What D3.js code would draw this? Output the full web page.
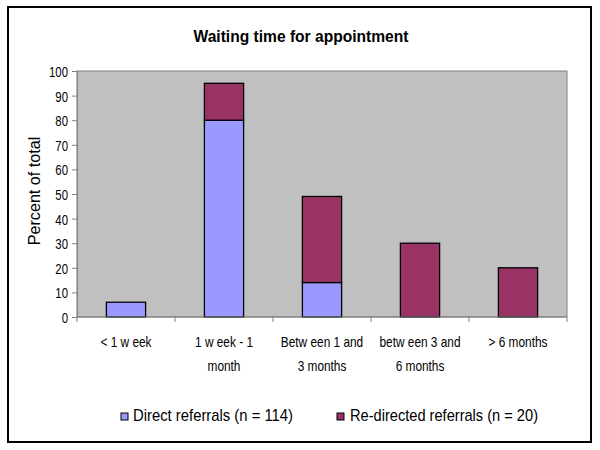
<!DOCTYPE html>
<html><head><meta charset="utf-8">
<script src="https://cdn.jsdelivr.net/npm/d3@7"></script>
<style>body{margin:0;background:#fff}svg{display:block}text{font-family:"Liberation Sans",Arial,sans-serif}</style>
</head><body>
<script>
const categories = ["< 1 w eek", "1 w eek - 1|month", "Betw een 1 and|3 months", "betw een 3 and|6 months", "> 6 months"];
const direct = [6, 80, 14, 0, 0];
const redirected = [0, 15, 35, 30, 20];
const yTicks = [0, 10, 20, 30, 40, 50, 60, 70, 80, 90, 100];
const seriesNames = ["Direct referrals (n = 114)", "Re-directed referrals (n = 20)"];
const colors = ["#9999FF", "#993366"];

const W = 600, H = 450;
const svg = d3.select("body").append("svg").attr("width", W).attr("height", H);
svg.append("rect").attr("x", 8).attr("y", 7).attr("width", 583).attr("height", 435)
  .attr("fill", "#fff").attr("stroke", "#000").attr("stroke-width", 2);

function condense(sel, f) {
  sel.each(function () {
    const w = this.getComputedTextLength();
    d3.select(this).attr("textLength", w * f).attr("lengthAdjust", "spacingAndGlyphs");
  });
}

const L = 77, R = 567, T = 71, B = 317;
const x = d3.scaleBand().domain(categories).range([L, R]).paddingInner(0.6).paddingOuter(0.3);
const y = d3.scaleLinear().domain([0, 100]).range([B, T]);

svg.append("rect").attr("x", L).attr("y", T).attr("width", R - L).attr("height", B - T)
  .attr("fill", "#C0C0C0").attr("stroke", "#808080").attr("stroke-width", 1);

svg.append("text").attr("x", 301).attr("y", 42).attr("text-anchor", "middle")
  .attr("font-size", 16).attr("font-weight", "bold").attr("textLength", 215)
  .attr("lengthAdjust", "spacingAndGlyphs").text("Waiting time for appointment");

// stacked data
const rows = categories.map((c, i) => ({cat: c, direct: direct[i], redirected: redirected[i]}));
const stack = d3.stack().keys(["direct", "redirected"])(rows);
stack.forEach((s, si) => {
  svg.append("g").selectAll("rect").data(s.filter(d => d[1] - d[0] > 0)).join("rect")
    .attr("x", d => x(d.data.cat)).attr("width", x.bandwidth())
    .attr("y", d => y(d[1])).attr("height", d => y(d[0]) - y(d[1]))
    .attr("fill", colors[si]).attr("stroke", "#000").attr("stroke-width", 1.3);
});

// y axis
const ya = svg.append("g").attr("transform", `translate(${L},0)`)
  .call(d3.axisLeft(y).tickValues(yTicks).tickSize(5).tickPadding(4));
ya.select(".domain").attr("stroke", "#808080");
ya.selectAll(".tick line").attr("stroke", "#808080");
ya.selectAll(".tick text").attr("font-size", 15).attr("fill", "#000").attr("dy", "0.36em");
condense(ya.selectAll(".tick text"), 0.76);

// x axis
const xa = svg.append("g").attr("transform", `translate(0,${B})`);
xa.append("line").attr("x1", L).attr("x2", R).attr("stroke", "#808080");
const step = (R - L) / categories.length;
xa.selectAll("line.tk").data(d3.range(categories.length + 1)).join("line").attr("class", "tk")
  .attr("x1", i => L + i * step).attr("x2", i => L + i * step).attr("y1", 0).attr("y2", 5)
  .attr("stroke", "#808080");
categories.forEach(c => {
  const lines = c.split("|");
  lines.forEach((ln, k) => {
    const t = xa.append("text").attr("text-anchor", "middle").attr("font-size", 15)
      .attr("x", x(c) + x.bandwidth() / 2).attr("y", 30 + k * 24).text(ln);
    condense(t, 0.79);
  });
});

const yt = svg.append("text").attr("transform", "translate(40,191) rotate(-90)").attr("text-anchor", "middle")
  .attr("font-size", 17).text("Percent of total");
condense(yt, 0.95);

// legend
const leg = [{x: 121, tx: 133, w: 160}, {x: 337, tx: 350, w: 188}];
seriesNames.forEach((n, i) => {
  svg.append("rect").attr("x", leg[i].x).attr("y", 413).attr("width", 7).attr("height", 7)
    .attr("fill", colors[i]).attr("stroke", "#000").attr("stroke-width", 1);
  svg.append("text").attr("x", leg[i].tx).attr("y", 421).attr("font-size", 17)
    .attr("textLength", leg[i].w).attr("lengthAdjust", "spacingAndGlyphs").text(n);
});
</script>
</body></html>
